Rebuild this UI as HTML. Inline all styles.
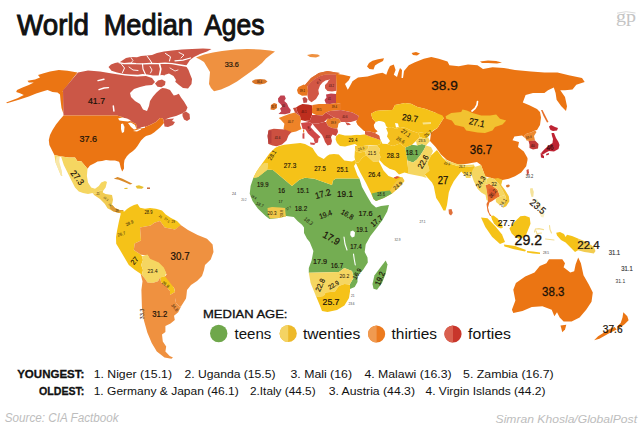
<!DOCTYPE html>
<html><head><meta charset="utf-8"><title>World Median Ages</title>
<style>
html,body{margin:0;padding:0;background:#fff;}
body{width:640px;height:426px;overflow:hidden;position:relative;font-family:"Liberation Sans",sans-serif;color:#111;}
svg{position:absolute;left:0;top:0;}
svg text{font-family:"Liberation Sans",sans-serif;text-anchor:middle;fill:#1a1208;}
svg .ui text{text-anchor:start;fill:#111;}
</style></head><body>
<svg width="640" height="426" viewBox="0 0 640 426">
<g shape-rendering="geometricPrecision">
<polygon points="77.5,72.6 67.5,70.8 58.8,70 50,71.4 43.8,73.2 38,75 40,77.6 35,79.5 27.5,80.8 28.8,82.6 33.8,82.6 28.8,85 22.5,87.6 17,90 16.2,92 20,93.2 23.8,95 17.5,98.2 6.2,102.4 7,103.2 18.8,99.7 28.8,96.6 36.2,93.5 42.5,91.4 47.5,90 52.5,92 57.5,92.6 60,94.5 60.5,100 61.5,108 63.5,114 63.5,91.4 62.5,91.4" fill="#EB7513"/>
<polygon points="78,72.5 88,70.6 100,71.5 112,73.5 125,75.5 137,76.5 146,76 152,78 155,82 152,85 146,85.5 140,87 134,89 130,93 131,97 135,101 140,104 143,109.5 147,111 149,106 150,101 153,96.5 156.5,92.5 160.5,89 162.5,88 166,88.5 170,90 172,93 173.8,95.5 176,95 178.8,93.8 181,97.5 184,101.5 187.5,107.5 186,111 182,113.5 176,116 170,117.5 165,119.5 168,119 174,118.5 172,121 175,122 173,125 168,127 164.5,126.5 164,123 163,118.5 160,118 156,122 150,125 144,127.5 137,129 136,124 131,121.5 122,117 117,115.6 63.5,115.6 63,90.3" fill="#CB5747"/>
<polygon points="182.5,113 186,111.5 189.5,114 190,119 187,121 184,119.5 182.5,116" fill="#CB5747"/>
<polygon points="108.5,67 111,64.5 115,63 120,62 123,60 126,58 131,57 137,57.3 141,56 147,55.5 152,55 157,53 164,51.6 172,50.5 182,49.6 192,49 203,48.6 211.5,49 207,51.5 200,54 194,57 190,60 188,63 186,66 188.5,70 190,74 192,79 191.5,84 188,88.5 183,88 179,85 175.5,82 173,78.5 168,76 162,75 158,75.5 153,75.5 147.5,74.5 142.5,74 138,74.8 131,74.5 124,73.9 117,72.5 111.5,70.7" fill="#CB5747"/>
<polygon points="155,83.5 158,80.5 162,79.5 165.5,81.5 165,85 161.5,87.3 157.5,86.8" fill="#CB5747"/>
<polyline points="119,62.6 124,63.6 130,63.2 136,63.6 143,63.9 150,63.5 158,63.6 165,63.1 172,63.6 180,65 187.5,66.3" fill="none" stroke="#FFFFFF" stroke-width="1.4" stroke-linecap="round"/>
<polyline points="142.5,64 143,69 145.5,74.5" fill="none" stroke="#FFFFFF" stroke-width="1.1" stroke-linecap="round"/>
<polyline points="159.5,64 160.8,69 159.5,75.5" fill="none" stroke="#FFFFFF" stroke-width="1.6" stroke-linecap="round"/>
<polyline points="165.5,53.5 170.5,56.8 169.5,61" fill="none" stroke="#FFFFFF" stroke-width="1.0" stroke-linecap="round"/>
<polyline points="175,60.8 183,60.2 190.5,58" fill="none" stroke="#FFFFFF" stroke-width="1.3" stroke-linecap="round"/>
<polyline points="121,63.5 124.5,68 122.5,72.5" fill="none" stroke="#FFFFFF" stroke-width="1.0" stroke-linecap="round"/>
<polyline points="147,56 150,60 152,63.3" fill="none" stroke="#FFFFFF" stroke-width="1.0" stroke-linecap="round"/>
<polyline points="131,57.5 133,60.5 131,63" fill="none" stroke="#FFFFFF" stroke-width="0.8" stroke-linecap="round"/>
<polyline points="129,67 133,70 138,70.5" fill="none" stroke="#FFFFFF" stroke-width="0.9" stroke-linecap="round"/>
<polyline points="150,66.5 152,70 150.5,73" fill="none" stroke="#FFFFFF" stroke-width="0.9" stroke-linecap="round"/>
<polyline points="179,52.5 184,55 181,58" fill="none" stroke="#FFFFFF" stroke-width="0.9" stroke-linecap="round"/>
<polyline points="170,68 175,71 178,70" fill="none" stroke="#FFFFFF" stroke-width="0.8" stroke-linecap="round"/>
<polygon points="164.5,75 169,73.5 173.5,76 176,80 174.5,83 170.5,82 166.5,78.5" fill="#FFFFFF"/>
<polyline points="98,80.6 104,79.2" fill="none" stroke="#FFFFFF" stroke-width="1.4" stroke-linecap="round"/>
<polyline points="99,89.6 104,88 108.5,87.6" fill="none" stroke="#FFFFFF" stroke-width="1.4" stroke-linecap="round"/>
<polyline points="113.3,106 113.9,111" fill="none" stroke="#FFFFFF" stroke-width="1.5" stroke-linecap="round"/>
<polygon points="63.5,115.6 117,115.6 122,117 131,121.5 136,124 137,129 144,127.5 150,125 156,122 160,118 163,118.5 164,123 160,127.5 157,130 154.4,132.2 151,134.5 146,136 144,137.5 141,140.5 139.4,143 137.5,146 135.6,148.5 133,151 129.5,153.5 127,156 124.5,160 123.9,164 124,168.5 122.2,171.5 120.8,168 119.6,163 119,161.7 115,160.6 110,160.6 106,160 102,161 97.5,161.5 95,163 90,165.6 87.5,168.7 84.4,165 81.2,161.2 77.5,161.2 75,157.5 68.8,157.5 60,156.2 54.4,155 52.5,151.2 49.4,145 48.8,140 50,135 52.5,130 56,124.5 60,119.5" fill="#EB7513"/>
<polygon points="118,118.5 122,117.5 127,118.5 131,120.5 128,121.5 123,121 119.5,120.5" fill="#FFFFFF"/>
<polygon points="121,124 123,123.5 124.5,127 124,132 122,133 121,129" fill="#FFFFFF"/>
<polygon points="128,123 131,122.5 135,125 136.5,129 134,129.5 131,127 129.5,125" fill="#FFFFFF"/>
<polygon points="133,131 138,129.5 141,128.5 141,129.5 137,131.5" fill="#FFFFFF"/>
<polygon points="140.5,127.5 145,126.5 145,127.8 141,128.5" fill="#FFFFFF"/>
<polygon points="196,57.5 204,54.5 213,52.5 222,51 235,49.5 247,49 260,49.5 270,50.5 275,51.5 271,54.5 266,58.5 262,63 256.5,67.5 251,71.5 244,76.5 237,81.5 229,86 221,89.5 214,91.3 211,88 209,84 209.5,78 210,72 207,67 204,62 200,59.5" fill="#EF9140"/>
<polygon points="252,81 255,79.5 260,79 265,79.5 267.5,81.5 265,83.5 260,84.5 255,84 252.5,82.5" fill="#D9772A"/>
<polygon points="307,55 312,54 318,54.5 320,56 316,57.5 310,57" fill="#EF9140"/>
<polygon points="54.4,155 60,156.2 68.8,157.5 75,157.5 77.5,161.2 81.2,161.2 84.4,165 87.5,168.8 86.9,176 88,182.5 91.2,187.5 95,188.8 98.8,186 101.2,182.5 105,181 107,182 105.6,187.5 103,191 100,190.5 97.5,192 95.5,194 92.5,193 88,194 83,193 78.8,191.5 75,187.5 71.2,180 67.5,172.5 63.8,165 61.2,157 59.5,156.5 58.8,162.5 61.2,170 62.2,176 61,175.5 58.8,170 55.6,162.5" fill="#F5D661"/>
<polygon points="92.5,193 95.5,194 97.5,192 100,190.5 103,191 102.8,192.5 105.6,194 112,195 113,199.7 112,204.4 115,208 119.7,210 123.5,210 122.5,212.3 118.8,213 113,211.3 107.5,208.3 104.7,203.8 100,199 94.4,195.3" fill="#F1CB52"/>
<polygon points="112.3,205 115,208 119.7,210 123.5,210 122.5,212.3 118.8,213 113,211.3 109.5,208" fill="#DB9A34"/>
<polygon points="56.5,156.5 59,156.5 59.5,162.5 61.5,170 62.3,176 60.8,175.5 58.5,170 55.5,162.5" fill="#F8E7A8"/>
<polygon points="113.8,178.8 117.5,177 122.5,178.8 127.5,181.2 132.5,183.8 130,184.6 125,182.3 118.8,179.8" fill="#D98A2A"/>
<polygon points="135.6,186 139,185.3 143.8,187 142,188.8 137,188.5" fill="#E8C030"/>
<polygon points="124.4,188 127.5,187.8 127.5,189 124.4,189" fill="#E8C030"/>
<polygon points="147,187.5 150,187.5 150,188.9 147,188.9" fill="#C06030"/>
<polygon points="120.6,210.6 124.4,211.6 127,209 130,207 134,205 137.5,204 140,207.8 145,208.8 150,208 156,208.8 162,210.6 165.7,214.4 171,218 177,221 180.7,224.7 180.7,225.6 175,229.4 164.7,227.5 160,221 154.4,222.8 150.7,225.6 140,227.5 141,240.6 134.7,243.5 133.8,250 141,254.7 141.9,256.2 143,260 141.2,265 143,270 141.9,275 140.6,273.8 135,270 128.8,265 124.4,257.5 120,250 116.2,243.8 116,237 117,231 118.8,222 120.6,214.4" fill="#F5C218"/>
<polygon points="140,227.5 150.7,225.6 154.4,222.8 160,221 164.7,227.5 175,229.4 180.7,225 188,230 197.6,235 207,238.8 212.6,244.4 213.5,252 210.7,259.4 205,265 204,270 202,276 197,281 191,285 187,290 186.5,295 186,298.5 181.6,305.4 180,307 176,303 175,298 175,292 174,287.5 166.6,282.8 163.8,278 166.6,274.4 163.8,268.8 158,265 150.6,261 147.8,255.6 141,254.7 133.8,250 134.7,243.5 141,240.6" fill="#EF9140"/>
<polygon points="141.9,256.2 147.5,254.4 150,258.8 158.8,262.5 163.8,267.5 166.2,273 165,276.2 160,277.5 158,281.2 152.5,283 147.5,282.5 145,278.8 141.9,275 143,270 141.2,265 143,260" fill="#F5D661"/>
<polygon points="160,277.5 165,276.2 168.8,281.2 173.8,287.5 175,292 170,295 170,291.2 166.2,286.2 161.2,282.5" fill="#F5C218"/>
<polygon points="140.6,273.8 141.9,275 145,278.8 147.5,282.5 152.5,283 158,281.2 160,277.5 161.2,282.5 166.2,286.2 170,291.2 170,295 175,292 175,298 176,303 180,307 181.6,305.4 178.2,312.3 174,315.7 174.8,320 170.5,323.4 165.4,326 165.4,332 162,334.5 162.8,341.4 166.2,346.5 165.4,351.6 169.7,356 173,357.6 171.4,358.8 164.5,357.6 156.8,351.6 151.7,343 147.4,332.8 144,320.8 141.9,307 141.4,290 142.5,281.2" fill="#EF9140"/>
<polygon points="253.4,177.8 258,177 267.5,169.4 273,170 292,186 299.4,179.7 305,177.8 314.4,178.8 332,185 333,180.6 336,178.5 359.4,178.5 362,187 367,196 371.6,203.8 376,207.5 381,206 389,205 387.2,211.6 382.5,220 377,227.5 370.4,236 365.7,244.4 364.7,252 367.5,257.5 367.8,262.5 363,270 357.5,275.6 357.5,282 354.7,287 350,289 350,284 353.8,277.5 352,271 344.4,268 338.8,272 308.8,272.8 308.8,268 311.6,260.6 313.4,251 309.7,242 307,238.8 304,233 304,227.5 302,224.7 297.5,221 293.8,217 286.3,216 278.8,218 269.4,219 265.6,216 258,208.8 252.5,201 249.7,193.8 250.6,186" fill="#74AD52"/>
<polygon points="275,148 279,146 284.4,144.8 293,143.8 300.3,143.1 305,144 308.8,146 312.6,148 315,152 318,156 323.8,159 327,156 329.4,154.4 334,154 338.8,154.4 344.4,160.6 352,161.6 355,160 356,163 354,166 357.5,175.6 359.4,178.5 336,178.5 333,180.6 332,185 314.4,178.8 305,177.8 299.4,179.7 292,186 273,170 267.5,169.4 258,177 253.4,177.8 256.3,172 260,166.6 264.7,160 269.4,153.4" fill="#F5C218"/>
<polygon points="256.3,172 260,166.6 264,163 268,163 268,167 267.5,169.4 258,177 253.4,177.8" fill="#F5D661"/>
<polygon points="267.5,208 272,207 280,207.5 285,208 285.5,213 286,216.5 278.8,218 270,218.5 268,214" fill="#F2C84B"/>
<polygon points="308.8,272.8 338.8,272 344.4,268 352,271 353.8,277.5 350,284 344.4,284 338.8,286 335,291.6 325.6,292.5 323.8,296 317,297 315.3,294.4 310.6,283" fill="#F5D661"/>
<polygon points="315.3,294.4 317,297 323.8,296 325.6,292.5 335,291.6 338.8,286 344.4,284 350,284.5 350,291.6 349,298 344.4,305.6 337,310 327.5,312 322,311 320,305.7" fill="#F5C218"/>
<polygon points="372.5,284 374.4,275.6 380,268 385.7,260.6 387.5,264.4 385.7,273.8 382,283 377,289.7 373.5,288.8" fill="#74AD52"/>
<polygon points="350.5,231.5 353,230.5 355,232.5 354.5,236.5 352,237.5 350.2,235" fill="#FFFFFF"/>
<polyline points="344,237 345,244 347,250" fill="none" stroke="#FFFFFF" stroke-width="1.1" stroke-linecap="round"/>
<polyline points="353.5,254 354.2,259 355.3,265" fill="none" stroke="#FFFFFF" stroke-width="1.1" stroke-linecap="round"/>
<polygon points="335.6,73.8 343,74.7 350.6,76.6 348.8,80.3 345,84 347.8,89.7 350,86 352.5,81.3 358,77.5 367.5,76.6 377,73.8 382.5,72.8 386.3,74.7 388,70 390,66 393.8,64.4 395.6,70 393.8,74.7 397,77 398.5,72 400,68 402,70 401.5,78 403,78 404,71 408.8,65.3 414.4,62.5 423.8,58.8 431.3,57 438.8,58.8 447.5,61.6 449.4,65.3 458.8,66.3 468,64.4 477.5,65.3 483,69 492.5,67.2 503.8,68 515,70 531,71.6 544.4,72.5 557.5,72.5 568.8,75.3 582,78 584.7,82 576.3,84.7 572.5,89.4 565,90.3 560.3,90.3 565,97 567,106.3 566,111 561.3,106.3 556.6,99.7 555.6,93 553.8,87.5 548,90.3 544.4,93 533,93 525.6,95 522.8,102.5 529.4,105.3 537,109 540,112 541,117.5 540,125 537,130 535,130.5 531,132.5 527,133.5 524,136 525.7,138.4 522,135.6 514.4,136.6 512.5,140.3 519,142 518,147 523.8,151.6 527.5,158 527.5,160 526.2,166.2 521.2,172.5 515,176.2 508.8,178.8 502.5,180 493.8,178.8 485,176.2 483.8,172.5 481,165 477,162 467.5,163.8 458,164.7 447,160 441,154.4 435.6,147 430,141 431,132.5 437.5,128 443.8,118 435,112.5 425,108.8 417.5,107 411,103.8 405,103 395,105 392.5,110 380,110.6 376,111 371,113.8 372.5,118.8 375.6,122 373.8,125 375,128.8 378,131 375,133 370,131.5 365,131 363.8,131 357.5,125 356,122 358.8,116 352.5,112.5 341,110 341,104 336,103 336,94 336.5,90.8 336,74.5" fill="#EB7513"/>
<polygon points="367,66.5 369,63 372.5,60.8 378,59.3 384,58.3 383,61 378,63.5 375,65.5 373.5,69.5 369.5,69" fill="#EB7513"/>
<polygon points="411.6,53 416,52 420,53.5 417,55.5 413,55" fill="#EB7513"/>
<polygon points="480,61.5 488,60.6 496,61 502,62.5 497,63.4 488,63 482,63" fill="#EB7513"/>
<polygon points="541,110 542.5,110 545,115 548.5,122 547,122.5 543.5,116" fill="#E8702A"/>
<polyline points="472,111 475,108.5 477,105 477.5,101.5" fill="none" stroke="#FFFFFF" stroke-width="1.7" stroke-linecap="round"/>
<polygon points="297,90 298.5,87 303.8,84.5 305,85 311,78 318.8,73 327.5,71 336,72.5 340,73 336,74.5 330,74.4 325,74.4 320,76 315,78.8 311,82 307.5,86 308,91 307.5,95.6 302,95.8 298,93.5" fill="#E8761E"/>
<polygon points="305,85 311,78 318.8,73 327.5,71 336,72.5 340,73 336,74.5 330,74.4 325,74.4 320,76 315,78.8 311,82 307.5,86" fill="#DE6A32"/>
<polygon points="307.5,86 311,82 315,78.8 320,76 325,74.4 330,74.4 330,79.5 325.5,80.5 322.5,82.5 320,85.5 318.3,90 319,94 316,99 311.5,102.3 308.5,100 307.5,96 308,91" fill="#D25745"/>
<polygon points="330,74.4 336,74.5 336.5,90.8 332,91.5 327.5,91 325,88.3 325,85 327.5,82.5 328.5,80.5 330,79.5" fill="#D25745"/>
<polygon points="326,94.5 331,93.5 336,94 336,103 330,104 326,103.8 324.5,100 326.5,97.5" fill="#C0424C"/>
<polygon points="302.5,98 305,97 307.5,99 307,102.5 303.5,103" fill="#C04A45"/>
<polygon points="280.5,95.5 284.5,95.5 285.8,98.5 284.3,101 287,103.5 288.5,107 290.8,110 290,113 285,114.3 278.5,114 281.3,111.3 280,108.5 282.3,106.5 280.5,104 278.3,102 278,98.5" fill="#C0424F"/>
<polygon points="271,105 274,103 277,104 277,108 274,110 270.5,109.5" fill="#DC7426"/>
<polygon points="278.8,118 283.8,116 290,113.8 295,112.5 300,116 301,120 300,125 301.5,129 296,131.5 291,132.5 285,130.2 283.5,129 284.4,123.8 281,120" fill="#EE8328"/>
<polygon points="268.5,130 273.8,128.8 285,129.5 291.5,132 288.5,135.5 286.5,140.5 282,144.5 276.5,146.3 272.5,145.5 268.5,144 267.6,136" fill="#CC5040"/>
<polygon points="268.5,131 271.5,130.5 271.5,143 268.5,144 267.6,136" fill="#B8403C"/>
<polygon points="296,107.5 299,105.5 302.5,104 308,104.5 312.5,105.5 312,108.8 312,115 310,120 305,121 301,120 300,116 297.5,112.5" fill="#BE2E1E"/>
<polygon points="293,108 296,107.5 297.5,112.5 300,116 295,112.5" fill="#C84A3C"/>
<polygon points="312.5,105 318.8,104 326,104 326,112.5 322.5,115.6 316,115 312,113 312,108.8" fill="#EC7A20"/>
<polygon points="326,104 330,104 336,103 341,104 341,110 330,111 326,112.5" fill="#EC7A20"/>
<polygon points="326,112.5 330,111 341,110 352.5,112.5 358.8,116 357.5,120 351,122 345,122 341,122 338.8,118.8 333.8,117.5 330,115" fill="#D25648"/>
<polygon points="345,122 349,123 351,125 347,125.5" fill="#D25648"/>
<polygon points="305,121 310,120 312,115 316,115 322.5,115.6 326,112.5 330,115 333.8,117.5 330,119 327.5,118.8 324,122 318,123.5 312.5,123.8 308.8,122" fill="#C8463C"/>
<polygon points="327.5,118.8 330,119 333.8,117.5 338.8,118.8 341,122 338.8,124 337.5,128.8 332,128 328,126 326,122" fill="#E88028"/>
<polygon points="312.5,123.8 318,123.5 324,122 326,122 328,126 332,128 337.5,128.8 338,132 336,136 332.5,134.5 331,137 332,141 331,144.5 327.5,145.5 325,142 324,139 322,135 318.5,131 315,127" fill="#CC4A40"/>
<polygon points="301,123 308.8,122 312.5,123.8 310.5,127 314.5,131.5 320.5,137 318.5,138.5 318,142.5 315,143.5 313.5,138.5 308,133.5 305.5,129.5 302.5,128.8" fill="#D04848"/>
<polygon points="310,142.5 315,143 314.5,145 310.5,144.5" fill="#D04848"/>
<polygon points="302.5,133.5 304.4,133 304.4,138.8 302.5,138.5" fill="#D04848"/>
<polygon points="303,129.5 304.2,129.5 304.2,132.5 303,132.5" fill="#EE8328"/>
<polygon points="336,136.5 338.8,134 345,135.5 351,135.5 358,134.5 365,134.5 370,136.5 376,138.5 380,140 381,143.5 377,145.5 370,145 363,146 357.5,146 355,144 351,145 345,146.5 340,146 337,143 335.6,139.5" fill="#F5C218"/>
<polygon points="365,131 370,131.5 375,133 380,136 384,140 380,140 376,138.5 370,136.5 365,134.5" fill="#D9603A"/>
<polygon points="355,146 363,146 368,145.5 368.5,148 365,151.5 360,152.5 356,151.5 355,149" fill="#F4C83A"/>
<polygon points="368,145.5 377,145.5 380,149 379,153 380.5,157 379.5,160 379,162 373,161.5 366,155 365,151.5 368.5,148" fill="#F5D35F"/>
<polygon points="355,149 356,151.5 360,152.5 365,151.5 366,155 362,158 358.5,162.5 355.6,162.5 354.5,157" fill="#F5C524"/>
<polygon points="377,145.5 381,143.5 380,140 384,140 387,144 393,146 400,143.5 405.4,147.5 406,152 407,157.8 408,168 408,173.5 404.4,172.5 399,174.4 395,170.6 389.5,168.8 384,165 379.5,160 380.5,157 379,153 380,149" fill="#F5C218"/>
<polygon points="355.6,162.5 358.5,162.5 362,158 366,155 373,161.5 379,162 380,163.5 383.5,170.5 388.5,176 394,178 397,176.3 402.5,177.5 404.4,181 398.8,187 392,193.5 383.8,198 376,201 373.5,199 370.6,192.5 366,183 360,172" fill="#F5C218"/>
<polygon points="371.6,193.5 380,191.6 390,190.6 392,193.5 383.8,198 376,201 373.5,199" fill="#74AD52"/>
<polygon points="392,193.5 390,190.6 394,184 397,180.5 402.5,177.5 404.4,181 398.8,188" fill="#F2C540"/>
<polygon points="393.5,177.5 397,176.3 400,177 396,179" fill="#D9553A"/>
<polygon points="405.4,147.5 412,144.7 417,145.5 422,144 426,145.5 424,149.4 420.5,155 417,159.5 413,162.5 407.5,160.5 406,152" fill="#74AD52"/>
<polygon points="413,162.5 417,159.5 420.5,155 424,149.4 426,145.5 431,147 433,151 431,155.6 427.5,163 429.4,170.6 424.7,174.4 426.6,178 422,176.6 408,173.8 408,168 407.5,160.5" fill="#F5D661"/>
<polygon points="371,113.8 376,111 380,110.6 392.5,110 395,105 405,103 411,103.8 417.5,107 425,108.8 435,112.5 442.5,115.6 443.8,118 440,123.8 437.5,128 433.8,130 431,132.5 424,132 418,133 412,131 406,128 400,127 396,129 392,127 388,128 386,126 385,123 383.8,122 378.8,121 375.6,122 372.5,118.8" fill="#F5C218"/>
<polygon points="386,128 392,127 396,129 400,127 406,128 412,131 418,133 420,137 416,141 412,144.7 405.4,147.5 400,143.5 393,146 387,144 386.5,138 388,133" fill="#F4BF1E"/>
<polygon points="418,133 424,132 431,132.5 428,137 424,138.5 420,137" fill="#F5C218"/>
<polygon points="420,137 424,138.5 428,137 430,141 426,145.5 422,144 417,145.5 416,141" fill="#F5D661"/>
<polygon points="395,123 398,123.5 398.8,127 396,127.5" fill="#FFFFFF"/>
<polygon points="422.5,122.5 431,122 431,124 423,124.5" fill="#F8E28A"/>
<polygon points="373.8,125 378.8,121 383.8,122 385,126 382.5,130 386,135 390,141 387.5,144 382.5,143.8 380,138.8 378.8,132.5 375,128.8" fill="#FFFFFF"/>
<polygon points="338.8,123 345,122 347,125.5 351,125 353,123 356,122 357.5,125 363.8,131 365,133.8 360,135 351,134 343.8,133.8 338.8,132.5 337.5,128.8" fill="#FFFFFF"/>
<polygon points="445.6,116.2 451.2,113 461.2,111.9 462.5,109.4 466.9,110.6 472.5,113 481.2,115.6 490,115.6 496.2,114.4 500,118.8 506.2,120.6 502.5,124.4 495,126.9 492.5,130.6 485,133 477.5,132.5 466.2,130.6 463.8,126.9 455,125 451.9,120.6 446.2,118.8" fill="#F2C230"/>
<polygon points="437,150 442.5,157.5 448,163 457.5,166 467,167 474.4,166 476.3,170.6 472.5,175.3 467.8,172.5 464,174.5 461.2,171.5 457.5,176.2 453.8,181.2 450.6,187.5 448.8,192.5 448,198 447,205 445.5,210.5 443.5,210.5 439.5,203 436.2,198 435,192.5 433.8,186.2 432,182.5 428.8,179 424.7,174.4 429.4,170.6 427.5,163 431,155.6" fill="#F5C218"/>
<polygon points="442.5,157.5 448,161 457.5,164 467,165 474,164.5 474.4,166 467,167 457.5,166 448,163" fill="#F5D661"/>
<polygon points="464,172.5 467.8,172.5 470.6,171 470.6,178 466,178" fill="#F5D661"/>
<polygon points="448.5,209.5 451.5,209 452.8,213 451,215.6 449,214" fill="#E0703A"/>
<polygon points="474.4,167 481,165 483.8,172.5 486.9,178.8 485.6,185 486.9,191.2 487.5,196 488,201 486.5,200 485.5,195 481.2,192.5 477.5,188.8 473.8,181.2 471.2,173.8 472.5,170" fill="#F5D661"/>
<polygon points="485.6,185 489.4,183.8 493,186.2 497.5,189.4 500,196.2 495.6,198.8 491.9,201.2 489.4,202.5 488,207.5 489.4,213 491.5,216 490,216 487.5,211 486.5,204 488,201 487.5,196 486.9,191.2" fill="#E8702A"/>
<polygon points="488.5,189 492,188 496,192 496,196 492,198 489,196" fill="#DE5A2E"/>
<polygon points="486.9,178.8 490,177.5 493.8,178.8 498.8,183.8 502.5,190 505,195 501.2,196.2 500,196.2 497.5,189.4 493,186.2 489.4,183.8 485.6,185" fill="#F5D661"/>
<polygon points="493.8,178.8 498,178 502.5,180 501.2,185 505,190 508.8,196.2 509.4,201.2 506.2,206.2 502.5,208 503.8,205 506.2,198.8 505,195 502.5,190 498.8,183.8" fill="#F2C230"/>
<polygon points="495.6,198.8 500,196.2 501.2,196.2 505,195 506.2,198.8 503.8,205 499,204.5 496,202" fill="#F5D661"/>
<polygon points="491,216 493.5,215.5 497.5,218.5 501,223 503,227.5 501,228.5 497.5,227 494,223.5 492,219.5" fill="#F5C218"/>
<polygon points="506.2,185 509,184.4 510,186 508,187.5 506.2,187" fill="#D9782A"/>
<polygon points="526.5,170 528.5,169 529,173 527,175.5" fill="#D05045"/>
<polygon points="524,136 527,133.5 531,132.5 535,130.5 536.5,132 534,136 535,140.5 530,141 526.5,140.5 525.7,138.4" fill="#EC8A30"/>
<polygon points="528.5,141 535,140.5 538.5,144 538,148.5 533,149.5 529.5,148 529.5,144.5" fill="#C23A3A"/>
<polygon points="549,126.5 551,125 555,127 558,128 557,130.5 553,131 550.5,130 549.5,128" fill="#BE2333"/>
<polygon points="551.5,133 554,133 556,138 558.5,142 559.5,145 558.5,149 554,151.5 549,151 546,152.5 543,154.5 541,155 541.5,152.5 545,148.8 548.8,145.5 552.5,143 553,139 552,136" fill="#BE2333"/>
<polygon points="540.5,153 544,156 544,158.2 541,157.5" fill="#BE2333"/>
<polygon points="546,154 549,153 549,154.5 546.5,155.5" fill="#BE2333"/>
<polygon points="481,217.5 487.5,218.3 495.5,226.5 502,234.5 505,242 500,244 492,236.8 485.3,227" fill="#F5C218"/>
<polygon points="503.8,244.4 515,246 526,250 525,251.5 513,249 504.5,246.5" fill="#F5C218"/>
<polygon points="509.4,228.4 514,222.5 520.3,216.3 525,215.8 529.7,217.5 530.5,223.8 528,230 526,235 523.4,237.5 519,238.8 515.6,237.3 511.7,233.5" fill="#F5C218"/>
<polyline points="534.5,232 535.5,229 539,228.6 543.5,229.6" fill="none" stroke="#F4DE90" stroke-width="1.2" stroke-linecap="round"/>
<polyline points="536,231 537.5,235 540.5,238.5" fill="none" stroke="#F4DE90" stroke-width="1.2" stroke-linecap="round"/>
<polyline points="537.5,233.5 541.5,233" fill="none" stroke="#F4DE90" stroke-width="1.1" stroke-linecap="round"/>
<polyline points="549.5,225.5 550,229.5 551.5,233" fill="none" stroke="#F4DE90" stroke-width="1.1" stroke-linecap="round"/>
<polyline points="545.5,239 554,240" fill="none" stroke="#F4DE90" stroke-width="1.0" stroke-linecap="round"/>
<polygon points="530,188.5 532.5,188 533.8,192 533.3,196.8 531.5,197 530.3,192.5" fill="#F5E39C"/>
<polygon points="540,211.5 543,211 544.5,214 543.5,217.5 541,217 539.8,214" fill="#FAF0C8"/>
<polygon points="535,199.5 537,199 540.5,205 542,209 540,209.5 537,204.5" fill="#FAF0C8"/>
<polygon points="556.2,232.8 560,232 564,234 565.6,237 567,234.7 572,236 578,238.6 578,250.3 575,251.9 570.3,247.2 565.6,242.5 561,240 557,235.5" fill="#F5C218"/>
<polygon points="578,238.6 583,240.5 587.5,242.5 591,245 593.8,247 595.5,251 593.8,253.5 588,252.5 584.4,251.9 578,250.3" fill="#F2CC50"/>
<polygon points="527,251 533,251.5 540,252.5 540,254 533,253.5 527,252.5" fill="#F5C218"/>
<polygon points="553,259.3 562.3,259.3 565,263.3 563.6,267.2 570.3,272.5 574.2,271.2 575.6,264.6 578.2,257.4 580.9,263.3 583.5,275.2 588.8,284.5 592.8,292.4 591.5,301.7 586.2,309.7 579.6,317.6 571.6,321.6 563.6,321.6 559.7,317.6 557,312.3 554.4,316.3 551.7,309.7 542.4,306.2 531.8,307 522.5,311 513.3,313.1 511.9,309.7 515.4,300.4 513.3,289.8 515.9,283.1 525.2,276.5 534.5,272.5 539.8,265.9 546.4,263.3 549,259.3" fill="#EB7513"/>
<polygon points="560.5,325.6 566.3,324.8 565,329.6 562.3,332.2" fill="#EB7513"/>
<polygon points="623.3,312.3 627.3,316.3 628.6,320.3 624.6,324.3 619.3,328.2 616.7,326.9 620.7,322.9 622.5,317.6" fill="#EB7513"/>
<polygon points="616.7,329.6 608.7,333.5 599.4,338.8 594.1,340.2 598.1,336.2 608.7,329.6 614.6,326.9" fill="#EB7513"/>
</g>
<circle cx="218.7" cy="333.5" r="8.7" fill="#6FA74B"/>
<circle cx="288.2" cy="333.5" r="8.6" fill="#EDB92A"/><path d="M288.2 324.9 A8.6 8.6 0 0 0 288.2 342.1 Z" fill="#F4D363"/>
<circle cx="376.6" cy="334" r="8.6" fill="#EC7A1E"/><path d="M376.6 325.4 A8.6 8.6 0 0 0 376.6 342.6 Z" fill="#F09A50"/>
<circle cx="453" cy="334" r="8.6" fill="#C8362B"/><path d="M453 325.4 A8.6 8.6 0 0 0 453 342.6 Z" fill="#D9604F"/>
<path d="M617 13.2 Q626 10.3 635.5 13" fill="none" stroke="#cfcfcf" stroke-width="0.8"/>
<g class="ui" fill="#111">
<text x="17" y="34.5" font-size="29" textLength="72" lengthAdjust="spacingAndGlyphs" stroke="#111" stroke-width="0.95">World</text>
<text x="103.7" y="34.5" font-size="29" textLength="89.3" lengthAdjust="spacingAndGlyphs" stroke="#111" stroke-width="0.95">Median</text>
<text x="204.2" y="34.5" font-size="29" textLength="60.3" lengthAdjust="spacingAndGlyphs" stroke="#111" stroke-width="0.95">Ages</text>
<text x="203" y="317.5" font-size="11.5" stroke="#111" stroke-width="0.32" textLength="84.5" lengthAdjust="spacingAndGlyphs">MEDIAN AGE:</text>
<text x="234.5" y="339.3" font-size="15.5" textLength="36.8" lengthAdjust="spacingAndGlyphs">teens</text>
<text x="303" y="339.3" font-size="15.5" textLength="57.3" lengthAdjust="spacingAndGlyphs">twenties</text>
<text x="391.5" y="339.3" font-size="15.5" textLength="45.5" lengthAdjust="spacingAndGlyphs">thirties</text>
<text x="468" y="339.3" font-size="15.5" textLength="43" lengthAdjust="spacingAndGlyphs">forties</text>
<text x="17.2" y="378.1" font-size="11.2" font-weight="bold" stroke="#111" stroke-width="0.3" textLength="67.2" lengthAdjust="spacingAndGlyphs">YOUNGEST:</text>
<text x="93.7" y="378.1" font-size="11.2" textLength="78.3" lengthAdjust="spacingAndGlyphs">1. Niger (15.1)</text>
<text x="184.4" y="378.1" font-size="11.2" textLength="91.1" lengthAdjust="spacingAndGlyphs">2. Uganda (15.5)</text>
<text x="290.5" y="378.1" font-size="11.2" textLength="61.5" lengthAdjust="spacingAndGlyphs">3. Mali (16)</text>
<text x="364.4" y="378.1" font-size="11.2" textLength="87.3" lengthAdjust="spacingAndGlyphs">4. Malawi (16.3)</text>
<text x="463" y="378.1" font-size="11.2" textLength="90.7" lengthAdjust="spacingAndGlyphs">5. Zambia (16.7)</text>
<text x="39" y="395.4" font-size="11.2" font-weight="bold" stroke="#111" stroke-width="0.3" textLength="45.4" lengthAdjust="spacingAndGlyphs">OLDEST:</text>
<text x="93.7" y="395.4" font-size="11.2" textLength="145" lengthAdjust="spacingAndGlyphs">1. Germany &amp; Japan (46.1)</text>
<text x="250" y="395.4" font-size="11.2" textLength="65.6" lengthAdjust="spacingAndGlyphs">2.Italy (44.5)</text>
<text x="328.7" y="395.4" font-size="11.2" textLength="86.3" lengthAdjust="spacingAndGlyphs">3. Austria (44.3)</text>
<text x="425.5" y="395.4" font-size="11.2" textLength="120" lengthAdjust="spacingAndGlyphs">4. Virgin Islands (44.2)</text>
<text x="4.7" y="421.9" font-size="12" font-style="italic" style="fill:#bdbdbd" textLength="114" lengthAdjust="spacingAndGlyphs">Source: CIA Factbook</text>
<text x="495.6" y="423" font-size="11.5" font-style="italic" style="fill:#bdbdbd" textLength="141.4" lengthAdjust="spacingAndGlyphs">Simran Khosla/GlobalPost</text>
<text x="616" y="22.3" font-size="17" font-family="Liberation Serif" style="fill:#c4c4c4;font-family:'Liberation Serif',serif" textLength="20" lengthAdjust="spacingAndGlyphs">gp</text>
</g>

<g class="lb">
<text x="96.5" y="103.6" font-size="8.5" stroke="#1a1208" stroke-width="0.19" textLength="17" lengthAdjust="spacingAndGlyphs">41.7</text>
<text x="88.2" y="142.4" font-size="9" stroke="#1a1208" stroke-width="0.20" textLength="17.6" lengthAdjust="spacingAndGlyphs">37.6</text>
<text x="231.7" y="67.2" font-size="8" stroke="#1a1208" stroke-width="0.18" transform="translate(231.7 64.3) rotate(0) scale(0.91 1) translate(-231.7 -64.3)">33.6</text>
<text x="77.5" y="180.7" font-size="9" stroke="#1a1208" stroke-width="0.20" transform="translate(77.5 177.5) rotate(52) scale(0.91 1) translate(-77.5 -177.5)">27.3</text>
<text x="180.1" y="260.1" font-size="10.8" stroke="#1a1208" stroke-width="0.24" textLength="19" lengthAdjust="spacingAndGlyphs">30.7</text>
<text x="159.7" y="317.3" font-size="8.5" stroke="#1a1208" stroke-width="0.19" transform="translate(159.7 314.2) rotate(0) scale(0.91 1) translate(-159.7 -314.2)">31.2</text>
<text x="152.5" y="272.7" font-size="5.7" transform="translate(152.5 270.6) rotate(0) scale(0.91 1) translate(-152.5 -270.6)">23.4</text>
<text x="141.9" y="316.2" font-size="6.2" transform="translate(141.9 314) rotate(-90) scale(0.91 1) translate(-141.9 -314)">33.3</text>
<text x="134.4" y="263.3" font-size="7.5" stroke="#1a1208" stroke-width="0.16" transform="translate(134.4 260.6) rotate(-50) scale(0.91 1) translate(-134.4 -260.6)">27</text>
<text x="165.6" y="286" font-size="4.5" transform="translate(165.6 284.4) rotate(38) scale(0.91 1) translate(-165.6 -284.4)">26.8</text>
<text x="174.8" y="309.2" font-size="4.5" transform="translate(174.8 307.6) rotate(50) scale(0.91 1) translate(-174.8 -307.6)">34.8</text>
<text x="148.5" y="214.1" font-size="4.5" transform="translate(148.5 212.5) rotate(0) scale(0.91 1) translate(-148.5 -212.5)">28.9</text>
<text x="129.5" y="224.6" font-size="4.5" transform="translate(129.5 223) rotate(-25) scale(0.91 1) translate(-129.5 -223)">28.9</text>
<text x="121.5" y="235.6" font-size="4.5" transform="translate(121.5 234) rotate(-15) scale(0.91 1) translate(-121.5 -234)">26.7</text>
<text x="160.5" y="217.7" font-size="3.3" transform="translate(160.5 216.5) rotate(40) scale(0.91 1) translate(-160.5 -216.5)">25</text>
<text x="167" y="221.2" font-size="3.3" transform="translate(167 220) rotate(40) scale(0.91 1) translate(-167 -220)">27.5</text>
<text x="173.3" y="223.5" font-size="3.3" transform="translate(173.3 222.3) rotate(0) scale(0.91 1) translate(-173.3 -222.3)">29</text>
<text x="98" y="195.1" font-size="3" transform="translate(98 194) rotate(0) scale(0.91 1) translate(-98 -194)">21</text>
<text x="106" y="199.6" font-size="3" transform="translate(106 198.5) rotate(40) scale(0.91 1) translate(-106 -198.5)">22.3</text>
<text x="110" y="206.1" font-size="3" transform="translate(110 205) rotate(50) scale(0.91 1) translate(-110 -205)">24</text>
<text x="117" y="212.1" font-size="3" transform="translate(117 211) rotate(0) scale(0.91 1) translate(-117 -211)">29</text>
<text x="444.5" y="90.4" font-size="12.3" stroke="#1a1208" stroke-width="0.27" textLength="26.5" lengthAdjust="spacingAndGlyphs">38.9</text>
<text x="481" y="154" font-size="12" stroke="#1a1208" stroke-width="0.26" textLength="22.5" lengthAdjust="spacingAndGlyphs">36.7</text>
<text x="476.9" y="125.8" font-size="9.3" stroke="#1a1208" stroke-width="0.20" transform="translate(476.9 122.5) rotate(12) scale(1.0 1) translate(-476.9 -122.5)" textLength="16" lengthAdjust="spacingAndGlyphs">27.1</text>
<text x="410" y="121.2" font-size="9" stroke="#1a1208" stroke-width="0.20" transform="translate(410 118) rotate(8) scale(0.91 1) translate(-410 -118)">29.7</text>
<text x="406" y="135.2" font-size="6" transform="translate(406 133) rotate(35) scale(0.91 1) translate(-406 -133)">27.1</text>
<text x="400.6" y="141.8" font-size="5" transform="translate(400.6 140) rotate(30) scale(0.91 1) translate(-400.6 -140)">26.6</text>
<text x="428" y="135.6" font-size="5" transform="translate(428 133.8) rotate(-40) scale(0.91 1) translate(-428 -133.8)">25.7</text>
<text x="422" y="142.4" font-size="4" transform="translate(422 141) rotate(0) scale(0.91 1) translate(-422 -141)">23.5</text>
<text x="443" y="184.1" font-size="11.5" stroke="#1a1208" stroke-width="0.25" textLength="10.6" lengthAdjust="spacingAndGlyphs">27</text>
<text x="506.3" y="226.3" font-size="9.8" stroke="#1a1208" stroke-width="0.22" textLength="16.9" lengthAdjust="spacingAndGlyphs">27.7</text>
<text x="528.4" y="244.9" font-size="14.5" stroke="#1a1208" stroke-width="0.32" textLength="27.6" lengthAdjust="spacingAndGlyphs">29.2</text>
<text x="538" y="210" font-size="9.8" stroke="#1a1208" stroke-width="0.22" transform="translate(538 206.5) rotate(40) scale(0.91 1) translate(-538 -206.5)">23.5</text>
<text x="588.5" y="249.1" font-size="10.5" stroke="#1a1208" stroke-width="0.23" textLength="22.5" lengthAdjust="spacingAndGlyphs">22.4</text>
<text x="553.3" y="295.5" font-size="12" stroke="#1a1208" stroke-width="0.26" textLength="22.5" lengthAdjust="spacingAndGlyphs">38.3</text>
<text x="612.7" y="332.6" font-size="10" stroke="#1a1208" stroke-width="0.22" textLength="19.7" lengthAdjust="spacingAndGlyphs">37.6</text>
<text x="614.4" y="254.6" font-size="6.5" style="fill:#333" stroke="#333" stroke-width="0.14" transform="translate(614.4 252.3) rotate(0) scale(0.91 1) translate(-614.4 -252.3)">31.1</text>
<text x="627" y="271.3" font-size="6.5" style="fill:#333" stroke="#333" stroke-width="0.14" transform="translate(627 269) rotate(0) scale(0.91 1) translate(-627 -269)">31.1</text>
<text x="620.4" y="283" font-size="5.5" style="fill:#333" transform="translate(620.4 281) rotate(0) scale(0.91 1) translate(-620.4 -281)">31.1</text>
<text x="546" y="254.3" font-size="3.5" style="fill:#444" transform="translate(546 253) rotate(0) scale(0.91 1) translate(-546 -253)">28.5</text>
<text x="529.4" y="177.8" font-size="4.5" style="fill:#333" transform="translate(529.4 176.2) rotate(0) scale(0.91 1) translate(-529.4 -176.2)">39.2</text>
<text x="422.5" y="223.3" font-size="3.5" style="fill:#444" transform="translate(422.5 222) rotate(0) scale(0.91 1) translate(-422.5 -222)">27.1</text>
<text x="532.7" y="147.4" font-size="4" style="fill:#2a0a0a" transform="translate(532.7 146) rotate(0) scale(0.91 1) translate(-532.7 -146)">40</text>
<text x="549.8" y="149.8" font-size="7" style="fill:#2a0a0a" stroke="#2a0a0a" stroke-width="0.15" transform="translate(549.8 147.3) rotate(-8) scale(0.91 1) translate(-549.8 -147.3)">46</text>
<text x="528.7" y="138.3" font-size="3.5" transform="translate(528.7 137) rotate(-15) scale(0.91 1) translate(-528.7 -137)">33.4</text>
<text x="290" y="168.5" font-size="7" stroke="#1a1208" stroke-width="0.15" transform="translate(290 166) rotate(0) scale(0.91 1) translate(-290 -166)">27.3</text>
<text x="320" y="170.7" font-size="6.5" stroke="#1a1208" stroke-width="0.14" transform="translate(320 168.4) rotate(0) scale(0.91 1) translate(-320 -168.4)">27.5</text>
<text x="342.6" y="171.9" font-size="6.5" stroke="#1a1208" stroke-width="0.14" transform="translate(342.6 169.6) rotate(0) scale(0.91 1) translate(-342.6 -169.6)">25.1</text>
<text x="262.8" y="187.3" font-size="6.5" stroke="#1a1208" stroke-width="0.14" transform="translate(262.8 185) rotate(0) scale(0.91 1) translate(-262.8 -185)">19.9</text>
<text x="281.6" y="192.9" font-size="7" stroke="#1a1208" stroke-width="0.15" transform="translate(281.6 190.4) rotate(0) scale(0.91 1) translate(-281.6 -190.4)">16</text>
<text x="303" y="193.5" font-size="7" stroke="#1a1208" stroke-width="0.15" transform="translate(303 191) rotate(0) scale(0.91 1) translate(-303 -191)">15.1</text>
<text x="322.8" y="197" font-size="9" stroke="#1a1208" stroke-width="0.20" transform="translate(322.8 193.8) rotate(-15) scale(0.91 1) translate(-322.8 -193.8)">17.2</text>
<text x="345" y="197.4" font-size="9" stroke="#1a1208" stroke-width="0.20" transform="translate(345 194.2) rotate(0) scale(0.91 1) translate(-345 -194.2)">19.1</text>
<text x="272" y="157.2" font-size="6" transform="translate(272 155) rotate(-58) scale(0.91 1) translate(-272 -155)">28.1</text>
<text x="234" y="195.2" font-size="4" style="fill:#444" transform="translate(234 193.8) rotate(0) scale(0.91 1) translate(-234 -193.8)">24</text>
<text x="301" y="211.3" font-size="7" stroke="#1a1208" stroke-width="0.15" transform="translate(301 208.8) rotate(0) scale(0.91 1) translate(-301 -208.8)">18.2</text>
<text x="325.5" y="217.1" font-size="7.5" stroke="#1a1208" stroke-width="0.16" transform="translate(325.5 214.4) rotate(-20) scale(0.91 1) translate(-325.5 -214.4)">19.4</text>
<text x="347.3" y="217.1" font-size="7.5" stroke="#1a1208" stroke-width="0.16" transform="translate(347.3 214.4) rotate(30) scale(0.91 1) translate(-347.3 -214.4)">16.8</text>
<text x="365.5" y="215.9" font-size="8" stroke="#1a1208" stroke-width="0.18" transform="translate(365.5 213) rotate(0) scale(0.91 1) translate(-365.5 -213)">17.6</text>
<text x="376.5" y="223.7" font-size="7.5" stroke="#1a1208" stroke-width="0.16" transform="translate(376.5 221) rotate(-40) scale(0.91 1) translate(-376.5 -221)">17.7</text>
<text x="362" y="232.3" font-size="6.5" stroke="#1a1208" stroke-width="0.14" transform="translate(362 230) rotate(0) scale(0.91 1) translate(-362 -230)">19.1</text>
<text x="331.5" y="241.6" font-size="10" stroke="#1a1208" stroke-width="0.22" transform="translate(331.5 238) rotate(30) scale(0.91 1) translate(-331.5 -238)">17.9</text>
<text x="356" y="248.8" font-size="6.5" stroke="#1a1208" stroke-width="0.14" transform="translate(356 246.5) rotate(0) scale(0.91 1) translate(-356 -246.5)">17.4</text>
<text x="320" y="264.2" font-size="8" stroke="#1a1208" stroke-width="0.18" transform="translate(320 261.3) rotate(0) scale(0.91 1) translate(-320 -261.3)">17.9</text>
<text x="337" y="268.5" font-size="7" stroke="#1a1208" stroke-width="0.15" transform="translate(337 266) rotate(0) scale(0.91 1) translate(-337 -266)">16.7</text>
<text x="308.6" y="223" font-size="5.5" transform="translate(308.6 221) rotate(40) scale(0.91 1) translate(-308.6 -221)">18.3</text>
<text x="272" y="215.2" font-size="5" transform="translate(272 213.4) rotate(0) scale(0.91 1) translate(-272 -213.4)">20.3</text>
<text x="253.8" y="198.3" font-size="3.5" transform="translate(253.8 197) rotate(30) scale(0.91 1) translate(-253.8 -197)">18.4</text>
<text x="280.6" y="202.7" font-size="4" transform="translate(280.6 201.3) rotate(0) scale(0.91 1) translate(-280.6 -201.3)">17</text>
<text x="281.7" y="214.9" font-size="4" transform="translate(281.7 213.5) rotate(-90) scale(0.91 1) translate(-281.7 -213.5)">20.8</text>
<text x="288.5" y="209.2" font-size="3.2" transform="translate(288.5 208) rotate(-30) scale(0.91 1) translate(-288.5 -208)">17.7</text>
<text x="244" y="201.4" font-size="3" style="fill:#555" transform="translate(244 200.3) rotate(0) scale(0.91 1) translate(-244 -200.3)">20.2</text>
<text x="260" y="206.1" font-size="4.5" transform="translate(260 204.5) rotate(25) scale(0.91 1) translate(-260 -204.5)">18.7</text>
<text x="357" y="276.1" font-size="6.5" stroke="#1a1208" stroke-width="0.14" transform="translate(357 273.8) rotate(-60) scale(0.91 1) translate(-357 -273.8)">16.9</text>
<text x="379.7" y="281.3" font-size="8" stroke="#1a1208" stroke-width="0.18" transform="translate(379.7 278.4) rotate(-68) scale(0.91 1) translate(-379.7 -278.4)">19.2</text>
<text x="320" y="287.7" font-size="7.5" stroke="#1a1208" stroke-width="0.16" transform="translate(320 285) rotate(-65) scale(0.91 1) translate(-320 -285)">22.8</text>
<text x="333.5" y="287.3" font-size="6.5" stroke="#1a1208" stroke-width="0.14" transform="translate(333.5 285) rotate(-30) scale(0.91 1) translate(-333.5 -285)">22.9</text>
<text x="344.4" y="277.6" font-size="5.5" transform="translate(344.4 275.6) rotate(0) scale(0.91 1) translate(-344.4 -275.6)">20.2</text>
<text x="331" y="305.4" font-size="9.5" stroke="#1a1208" stroke-width="0.21" transform="translate(331 302) rotate(0) scale(0.91 1) translate(-331 -302)">25.7</text>
<text x="352.8" y="297.3" font-size="3.5" style="fill:#444" transform="translate(352.8 296) rotate(0) scale(0.91 1) translate(-352.8 -296)">21</text>
<text x="351.5" y="305.3" font-size="3.5" style="fill:#444" transform="translate(351.5 304) rotate(0) scale(0.91 1) translate(-351.5 -304)">23.6</text>
<text x="397.5" y="241" font-size="3.5" style="fill:#555" transform="translate(397.5 239.7) rotate(0) scale(0.91 1) translate(-397.5 -239.7)">32.9</text>
<text x="374.4" y="177.2" font-size="7" stroke="#1a1208" stroke-width="0.15" transform="translate(374.4 174.7) rotate(0) scale(0.91 1) translate(-374.4 -174.7)">26.4</text>
<text x="393" y="158.5" font-size="7" stroke="#1a1208" stroke-width="0.15" transform="translate(393 156) rotate(0) scale(0.91 1) translate(-393 -156)">28.3</text>
<text x="412" y="155.5" font-size="7" stroke="#1a1208" stroke-width="0.15" transform="translate(412 153) rotate(0) scale(0.91 1) translate(-412 -153)">18.1</text>
<text x="423" y="164.5" font-size="8" stroke="#1a1208" stroke-width="0.18" transform="translate(423 161.6) rotate(-60) scale(0.91 1) translate(-423 -161.6)">22.6</text>
<text x="397.8" y="187.5" font-size="5.5" transform="translate(397.8 185.5) rotate(-40) scale(0.91 1) translate(-397.8 -185.5)">24.9</text>
<text x="381" y="196.4" font-size="4.5" transform="translate(381 194.8) rotate(0) scale(0.91 1) translate(-381 -194.8)">18.6</text>
<text x="372" y="155.2" font-size="4.6" transform="translate(372 153.5) rotate(0) scale(0.91 1) translate(-372 -153.5)">21.5</text>
<text x="361" y="149.9" font-size="3.6" transform="translate(361 148.6) rotate(-15) scale(0.91 1) translate(-361 -148.6)">23.3</text>
<text x="353" y="141.8" font-size="5" transform="translate(353 140) rotate(0) scale(0.91 1) translate(-353 -140)">29.4</text>
<text x="467.5" y="176.1" font-size="4.5" transform="translate(467.5 174.5) rotate(0) scale(0.91 1) translate(-467.5 -174.5)">24.3</text>
<text x="480.6" y="184.4" font-size="7" stroke="#1a1208" stroke-width="0.15" transform="translate(480.6 181.9) rotate(-58) scale(0.91 1) translate(-480.6 -181.9)">24.3</text>
<text x="492.5" y="195.5" font-size="5.5" transform="translate(492.5 193.5) rotate(-50) scale(0.91 1) translate(-492.5 -193.5)">36.2</text>
<text x="494" y="186" font-size="5.5" transform="translate(494 184) rotate(0) scale(0.91 1) translate(-494 -184)">32</text>
<text x="503" y="204.3" font-size="5" transform="translate(503 202.5) rotate(-55) scale(0.91 1) translate(-503 -202.5)">24.1</text>
<text x="447" y="164.8" font-size="3.5" transform="translate(447 163.5) rotate(15) scale(0.91 1) translate(-447 -163.5)">22.9</text>
<text x="462" y="167.8" font-size="3.5" transform="translate(462 166.5) rotate(0) scale(0.91 1) translate(-462 -166.5)">26.7</text>
<text x="290.5" y="122.7" font-size="3.2" transform="translate(290.5 121.5) rotate(0) scale(0.91 1) translate(-290.5 -121.5)">40.7</text>
<text x="277.5" y="138.7" font-size="3.2" transform="translate(277.5 137.5) rotate(0) scale(0.91 1) translate(-277.5 -137.5)">41.6</text>
<text x="283.5" y="107" font-size="2.8" transform="translate(283.5 106) rotate(0) scale(0.91 1) translate(-283.5 -106)">40</text>
<text x="334.5" y="107.6" font-size="3" transform="translate(334.5 106.5) rotate(0) scale(0.91 1) translate(-334.5 -106.5)">39.4</text>
<text x="333.5" y="124.1" font-size="3" transform="translate(333.5 123) rotate(0) scale(0.91 1) translate(-333.5 -123)">39.9</text>
<text x="304" y="113.1" font-size="3" style="fill:#3a0a06" transform="translate(304 112) rotate(0) scale(0.91 1) translate(-304 -112)">46.1</text>
<text x="309" y="129.5" font-size="2.8" style="fill:#3a0a06" transform="translate(309 128.5) rotate(60) scale(0.91 1) translate(-309 -128.5)">44.5</text>
<text x="318.5" y="82.6" font-size="3" style="fill:#3a0a06" transform="translate(318.5 81.5) rotate(-50) scale(0.91 1) translate(-318.5 -81.5)">41.2</text>
<text x="331.5" y="86.6" font-size="3" style="fill:#3a0a06" transform="translate(331.5 85.5) rotate(0) scale(0.91 1) translate(-331.5 -85.5)">43.2</text>
<text x="302.5" y="91.6" font-size="3" transform="translate(302.5 90.5) rotate(0) scale(0.91 1) translate(-302.5 -90.5)">39.1</text>
<text x="345" y="117.6" font-size="3" style="fill:#3a0a06" transform="translate(345 116.5) rotate(0) scale(0.91 1) translate(-345 -116.5)">40.6</text>
<text x="319" y="111.1" font-size="3" transform="translate(319 110) rotate(0) scale(0.91 1) translate(-319 -110)">38.5</text>
<text x="329.5" y="100" font-size="2.8" style="fill:#3a0a06" transform="translate(329.5 99) rotate(0) scale(0.91 1) translate(-329.5 -99)">41</text>
<text x="259.5" y="82.9" font-size="3" transform="translate(259.5 81.8) rotate(0) scale(0.91 1) translate(-259.5 -81.8)">36.4</text>
<text x="273.5" y="107.9" font-size="2.6" transform="translate(273.5 107) rotate(0) scale(0.91 1) translate(-273.5 -107)">35.7</text>
<text x="328" y="138" font-size="2.8" style="fill:#3a0a06" transform="translate(328 137) rotate(0) scale(0.91 1) translate(-328 -137)">43.5</text>
</g>
</svg>

</body></html>
